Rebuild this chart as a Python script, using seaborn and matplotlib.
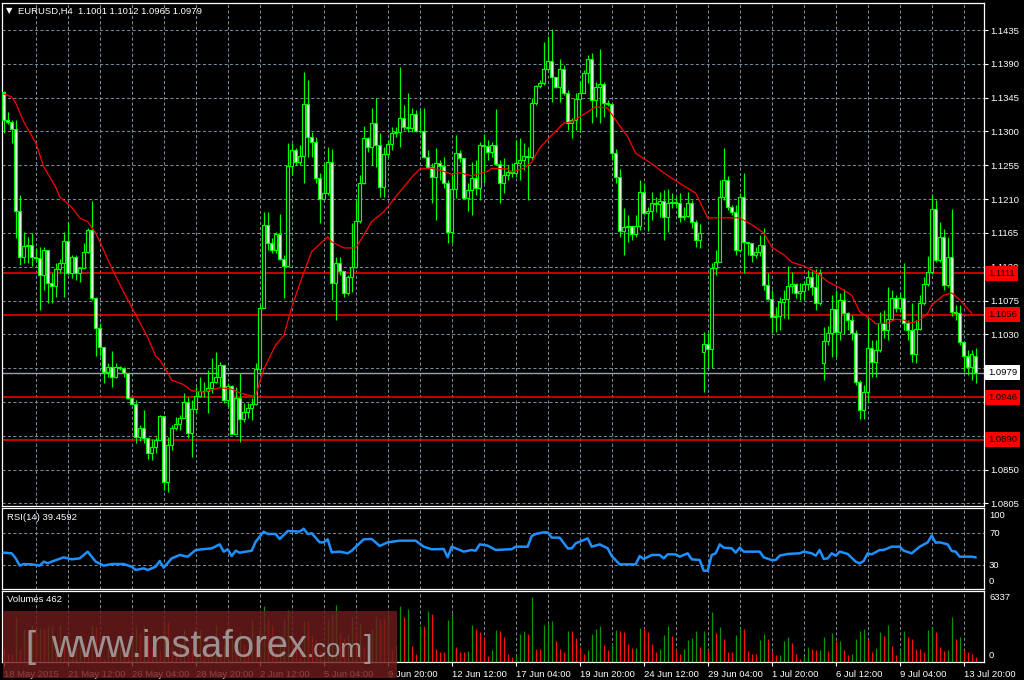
import numpy as np
import matplotlib
matplotlib.use("Agg")
import matplotlib.pyplot as plt
import matplotlib.transforms as mtransforms
from matplotlib.patches import Rectangle
import seaborn as sns

sns.set_theme(style="dark")
plt.rcParams['font.family'] = ['Liberation Sans', 'DejaVu Sans']

# ---------------- data ----------------
symbol_title = "EURUSD,H4  1.1001 1.1012 1.0965 1.0979"
first_open = 1.1353
gap_opens = {175: 1.1006, 205: 1.0992, 243: 1.1001}

closes = [
    1.1315, 1.1313, 1.1303, 1.1194, 1.1133, 1.1148, 1.1149, 1.1133, 1.1132, 1.1109,
    1.1142, 1.1098, 1.1094, 1.1117, 1.1125, 1.1154, 1.1112, 1.1133, 1.1112, 1.1118,
    1.1140, 1.1169, 1.1078, 1.1038, 1.1013, 1.0980, 1.0987, 1.0973, 1.0987, 1.0985,
    1.0979, 1.0945, 1.0937, 1.0893, 1.0905, 1.0892, 1.0872, 1.0880, 1.0889, 1.0921,
    1.0833, 1.0883, 1.0905, 1.0911, 1.0919, 1.0940, 1.0899, 1.0931, 1.0948, 1.0955,
    1.0954, 1.0959, 1.0967, 1.0973, 1.0989, 1.0943, 1.0961, 1.0897, 1.0945, 1.0917,
    1.0927, 1.0932, 1.0937, 1.0984, 1.1065, 1.1176, 1.1152, 1.1142, 1.1164, 1.1130,
    1.1121, 1.1254, 1.1275, 1.1259, 1.1267, 1.1337, 1.1293, 1.1286, 1.1238, 1.1210,
    1.1218, 1.1259, 1.1098, 1.1125, 1.1114, 1.1085, 1.1106, 1.1120, 1.1181, 1.1231,
    1.1291, 1.1279, 1.1311, 1.1282, 1.1226, 1.1270, 1.1283, 1.1298, 1.1299, 1.1318,
    1.1306, 1.1305, 1.1323, 1.1301, 1.1300, 1.1266, 1.1253, 1.1239, 1.1258, 1.1254,
    1.1231, 1.1166, 1.1223, 1.1271, 1.1265, 1.1211, 1.1222, 1.1238, 1.1225, 1.1282,
    1.1281, 1.1273, 1.1282, 1.1257, 1.1231, 1.1242, 1.1246, 1.1245, 1.1258, 1.1262,
    1.1267, 1.1266, 1.1338, 1.1361, 1.1365, 1.1383, 1.1394, 1.1373, 1.1359, 1.1383,
    1.1351, 1.1311, 1.1315, 1.1343, 1.1351, 1.1378, 1.1396, 1.1342, 1.1359, 1.1363,
    1.1338, 1.1337, 1.1271, 1.1239, 1.1168, 1.1173, 1.1174, 1.1164, 1.1174, 1.1219,
    1.1191, 1.1194, 1.1205, 1.1204, 1.1207, 1.1186, 1.1205, 1.1206, 1.1205, 1.1186,
    1.1187, 1.1205, 1.1180, 1.1156, 1.1165, 1.1017, 1.1010, 1.1118, 1.1126, 1.1213,
    1.1235, 1.1199, 1.1193, 1.1142, 1.1213, 1.1153, 1.1152, 1.1136, 1.1140, 1.1149,
    1.1096, 1.1077, 1.1053, 1.1054, 1.1073, 1.1077, 1.1094, 1.1097, 1.1085, 1.1088,
    1.1097, 1.1106, 1.1093, 1.1072, 1.1112, 1.1021, 1.1032, 1.1064, 1.1033, 1.1076,
    1.1058, 1.1049, 1.1032, 1.0967, 1.0929, 1.0953, 1.1012, 1.0993, 1.1009, 1.1045,
    1.1036, 1.1050, 1.1078, 1.1065, 1.1078, 1.1045, 1.1036, 1.1004, 1.1037, 1.1072,
    1.1097, 1.1113, 1.1197, 1.1129, 1.1160, 1.1096, 1.1133, 1.1060, 1.1058, 1.1020,
    1.1001, 1.0987, 1.1004, 1.0979,
]

highs = [
    1.1354, 1.1326, 1.1315, 1.1315, 1.1215, 1.1166, 1.1160, 1.1165, 1.1145, 1.1146,
    1.1146, 1.1142, 1.1112, 1.1125, 1.1130, 1.1166, 1.1180, 1.1136, 1.1136, 1.1120,
    1.1152, 1.1172, 1.1207, 1.1080, 1.1045, 1.1010, 1.0992, 1.1008, 1.0992, 1.0988,
    1.0987, 1.0979, 1.0945, 1.0943, 1.0909, 1.0929, 1.0892, 1.0891, 1.0893, 1.0923,
    1.0921, 1.0893, 1.0909, 1.0920, 1.0923, 1.0952, 1.0947, 1.0943, 1.0960, 1.0973,
    1.0967, 1.0983, 1.0999, 1.1006, 1.0993, 1.0983, 1.0965, 1.0963, 1.0960, 1.0979,
    1.0939, 1.0939, 1.0945, 1.0992, 1.1069, 1.1193, 1.1193, 1.1158, 1.1166, 1.1190,
    1.1136, 1.1285, 1.1285, 1.1278, 1.1282, 1.1379, 1.1369, 1.1299, 1.1293, 1.1245,
    1.1258, 1.1279, 1.1277, 1.1133, 1.1133, 1.1112, 1.1109, 1.1178, 1.1209, 1.1242,
    1.1307, 1.1293, 1.1331, 1.1345, 1.1298, 1.1279, 1.1289, 1.1306, 1.1306, 1.1386,
    1.1335, 1.1351, 1.1331, 1.1329, 1.1329, 1.1331, 1.1275, 1.1258, 1.1278, 1.1262,
    1.1266, 1.1235, 1.1245, 1.1295, 1.1275, 1.1265, 1.1231, 1.1259, 1.1262, 1.1286,
    1.1297, 1.1289, 1.1286, 1.1330, 1.1262, 1.1265, 1.1255, 1.1258, 1.1289, 1.1291,
    1.1285, 1.1279, 1.1345, 1.1362, 1.1369, 1.1419, 1.1427, 1.1436, 1.1373, 1.1396,
    1.1388, 1.1355, 1.1318, 1.1351, 1.1367, 1.1382, 1.1402, 1.1404, 1.1366, 1.1410,
    1.1366, 1.1342, 1.1338, 1.1277, 1.1250, 1.1198, 1.1189, 1.1173, 1.1189, 1.1235,
    1.1231, 1.1199, 1.1219, 1.1213, 1.1219, 1.1222, 1.1223, 1.1218, 1.1213, 1.1218,
    1.1199, 1.1219, 1.1209, 1.1182, 1.1177, 1.1033, 1.1032, 1.1125, 1.1142, 1.1235,
    1.1278, 1.1241, 1.1202, 1.1202, 1.1218, 1.1245, 1.1153, 1.1152, 1.1146, 1.1162,
    1.1172, 1.1112, 1.1089, 1.1066, 1.1080, 1.1089, 1.1121, 1.1113, 1.1098, 1.1098,
    1.1100, 1.1116, 1.1114, 1.1117, 1.1117, 1.1040, 1.1041, 1.1082, 1.1089, 1.1085,
    1.1090, 1.1060, 1.1056, 1.1036, 1.0969, 1.0963, 1.1053, 1.1022, 1.1022, 1.1060,
    1.1062, 1.1093, 1.1089, 1.1082, 1.1085, 1.1125, 1.1049, 1.1072, 1.1049, 1.1082,
    1.1106, 1.1134, 1.1217, 1.1209, 1.1180, 1.1170, 1.1160, 1.1197, 1.1069, 1.1069,
    1.1013, 1.1009, 1.1009, 1.1012,
]

lows = [
    1.1298, 1.1310, 1.1285, 1.1158, 1.1122, 1.1125, 1.1125, 1.1121, 1.1126, 1.1062,
    1.1089, 1.1072, 1.1072, 1.1080, 1.1112, 1.1080, 1.1109, 1.1105, 1.1102, 1.1100,
    1.1118, 1.1138, 1.1076, 1.1001, 1.1001, 1.0965, 1.0973, 1.0960, 1.0972, 1.0983,
    1.0973, 1.0944, 1.0936, 1.0885, 1.0888, 1.0885, 1.0864, 1.0863, 1.0872, 1.0889,
    1.0823, 1.0820, 1.0876, 1.0903, 1.0903, 1.0919, 1.0892, 1.0867, 1.0925, 1.0947,
    1.0947, 1.0925, 1.0952, 1.0965, 1.0960, 1.0939, 1.0933, 1.0897, 1.0897, 1.0887,
    1.0913, 1.0919, 1.0916, 1.0936, 1.0980, 1.1065, 1.1142, 1.1138, 1.1138, 1.1129,
    1.1078, 1.1120, 1.1242, 1.1255, 1.1255, 1.1231, 1.1266, 1.1266, 1.1231, 1.1178,
    1.1209, 1.1215, 1.1076, 1.1049, 1.1109, 1.1080, 1.1082, 1.1086, 1.1118, 1.1178,
    1.1230, 1.1273, 1.1255, 1.1253, 1.1213, 1.1213, 1.1266, 1.1275, 1.1293, 1.1279,
    1.1302, 1.1299, 1.1299, 1.1299, 1.1298, 1.1265, 1.1251, 1.1205, 1.1182, 1.1235,
    1.1225, 1.1152, 1.1152, 1.1211, 1.1259, 1.1210, 1.1194, 1.1189, 1.1215, 1.1209,
    1.1231, 1.1262, 1.1266, 1.1255, 1.1205, 1.1218, 1.1235, 1.1239, 1.1239, 1.1235,
    1.1249, 1.1209, 1.1262, 1.1335, 1.1358, 1.1362, 1.1382, 1.1339, 1.1358, 1.1339,
    1.1349, 1.1302, 1.1291, 1.1302, 1.1299, 1.1351, 1.1365, 1.1311, 1.1319, 1.1311,
    1.1319, 1.1334, 1.1262, 1.1231, 1.1160, 1.1136, 1.1153, 1.1156, 1.1160, 1.1169,
    1.1189, 1.1168, 1.1182, 1.1193, 1.1186, 1.1156, 1.1166, 1.1198, 1.1199, 1.1180,
    1.1182, 1.1186, 1.1172, 1.1146, 1.1145, 1.0953, 1.0985, 1.0985, 1.1109, 1.1126,
    1.1209, 1.1195, 1.1189, 1.1136, 1.1140, 1.1112, 1.1136, 1.1126, 1.1132, 1.1134,
    1.1089, 1.1076, 1.1032, 1.1033, 1.1036, 1.1052, 1.1050, 1.1085, 1.1078, 1.1076,
    1.1076, 1.1089, 1.1082, 1.1062, 1.1069, 1.0969, 1.1016, 1.1000, 1.1000, 1.1022,
    1.1030, 1.1036, 1.1022, 1.0963, 1.0917, 1.0917, 1.0940, 1.0973, 1.0973, 1.1006,
    1.1025, 1.1022, 1.1049, 1.1060, 1.1060, 1.1036, 1.1022, 1.0993, 1.0992, 1.1036,
    1.1069, 1.1094, 1.1110, 1.1126, 1.1126, 1.1089, 1.1093, 1.1054, 1.1049, 1.1016,
    1.0980, 1.0976, 1.0969, 1.0965,
]

volumes = [
    1235, 813, 748, 4388, 1203, 3250, 2925, 3575, 3250, 3315,
    3250, 3413, 3510, 975, 3575, 2113, 2828, 975, 1463, 2113,
    1723, 975, 3478, 3413, 1463, 325, 1463, 878, 1788, 2438,
    1398, 975, 2113, 3413, 2763, 3478, 2763, 1463, 2113, 1138,
    3998, 3900, 1463, 943, 1463, 3250, 1463, 1138, 1950, 3088,
    1528, 488, 813, 3575, 650, 1625, 1463, 2113, 1300, 2925,
    1788, 1300, 4063, 2113, 3088, 5428, 4160, 3575, 975, 2113,
    4128, 5038, 2275, 1625, 1463, 3965, 3900, 2665, 2113, 1138,
    1463, 4063, 4648, 5525, 2698, 2340, 2763, 4388, 2990, 3738,
    1463, 1040, 3250, 4453, 4160, 4160, 4648, 1138, 1625, 5428,
    4388, 5135, 1560, 748, 3478, 3478, 4940, 4648, 1300, 943,
    943, 4063, 4713, 1463, 975, 975, 1040, 3575, 3185, 2893,
    2438, 585, 1138, 3088, 2990, 2438, 748, 500, 650, 2763,
    2990, 2698, 6337, 1235, 1235, 3575, 3803, 3965, 2015, 1235,
    943, 2990, 2990, 2340, 1463, 813, 1138, 2763, 3185, 3478,
    1625, 1138, 1788, 3088, 2990, 2893, 1723, 1365, 1400, 3315,
    3315, 2893, 1723, 943, 1235, 2600, 3478, 2503, 1235, 813,
    1235, 2178, 2340, 2990, 1463, 3023, 1138, 4875, 2828, 3413,
    2210, 943, 943, 2600, 3315, 3250, 1040, 748, 748, 2113,
    2698, 2210, 1073, 650, 715, 2015, 2438, 1885, 748, 325,
    553, 1463, 1300, 1138, 1170, 2438, 1040, 2828, 2015, 2050,
    1138, 715, 813, 2210, 2990, 3185, 2178, 943, 1365, 2893,
    2503, 3575, 1560, 715, 1138, 2990, 2438, 2210, 1300, 1235,
    943, 3088, 3348, 2893, 1463, 1040, 1138, 4355, 2210, 2438,
    1138, 943, 748, 462,
]

ma_bars = [0, 2, 3, 5, 8, 10, 13, 14, 17, 19, 21, 23, 25, 27, 30, 33, 36, 38, 39, 41,
           42, 45, 47, 50, 52, 54, 57, 59, 62, 63, 65, 68, 70, 72, 75, 77, 81, 82, 85, 88,
           90, 92, 95, 98, 102, 104, 107, 110, 112, 114, 117, 121, 122, 126, 127, 130, 132,
           134, 137, 140, 142, 146, 148, 151, 153, 156, 158, 162, 165, 169, 173, 176, 179,
           184, 187, 190, 192, 195, 197, 200, 203, 206, 209, 212, 214, 217, 218, 221, 223,
           225, 227, 229, 231, 232, 235, 237, 239, 242]
ma_vals = [1.1350, 1.1346, 1.1338, 1.1313, 1.1285, 1.1253, 1.1226, 1.1213, 1.1199, 1.1185,
           1.1180, 1.1165, 1.1142, 1.1118, 1.1086, 1.1056, 1.1026, 1.1001, 1.0996, 1.0979,
           1.0969, 1.0963, 1.0955, 1.0953, 1.0956, 1.0959, 1.0957, 1.0952, 1.0948, 1.0949,
           1.0983, 1.1016, 1.1028, 1.1066, 1.1112, 1.1140, 1.1160, 1.1153, 1.1145, 1.1145,
           1.1162, 1.1180, 1.1193, 1.1213, 1.1239, 1.1250, 1.1251, 1.1247, 1.1243, 1.1245,
           1.1241, 1.1247, 1.1251, 1.1250, 1.1246, 1.1251, 1.1259, 1.1278, 1.1295, 1.1311,
           1.1313, 1.1326, 1.1333, 1.1331, 1.1315, 1.1293, 1.1271, 1.1257, 1.1245, 1.1231,
           1.1218, 1.1185, 1.1185, 1.1185, 1.1176, 1.1165, 1.1146, 1.1136, 1.1126, 1.1121,
           1.1113, 1.1100, 1.1092, 1.1082, 1.1060, 1.1049, 1.1044, 1.1045, 1.1050, 1.1049,
           1.1045, 1.1049, 1.1058, 1.1069, 1.1082, 1.1085, 1.1076, 1.1058]

rsi_bars = [0, 2, 3, 4, 5, 7, 9, 10, 11, 12, 15, 17, 19, 21, 23, 25, 27, 30, 32, 33,
            35, 36, 38, 39, 40, 42, 44, 46, 48, 52, 54, 55, 56, 57, 58, 59, 62, 63, 65, 66,
            68, 69, 71, 74, 75, 76, 77, 79, 80, 81, 82, 84, 86, 87, 90, 92, 94, 96, 99, 103,
            105, 107, 110, 111, 112, 115, 117, 118, 119, 121, 123, 127, 128, 131, 132, 133,
            135, 136, 137, 139, 141, 142, 143, 146, 147, 149, 151, 152, 154, 158, 159, 160,
            162, 164, 165, 166, 168, 169, 171, 172, 174, 175, 176, 177, 178, 179, 180, 182,
            183, 184, 185, 189, 190, 192, 193, 194, 196, 199, 200, 202, 203, 204, 205, 206,
            207, 208, 209, 211, 213, 214, 215, 216, 217, 219, 220, 222, 224, 225, 227, 229,
            231, 232, 233, 234, 236, 237, 238, 239, 242, 243]
rsi_vals = [45.4, 44.6, 38.3, 29.2, 31.2, 30.8, 29.2, 34.2, 32.1, 34.2, 39.6, 37.1, 38.3,
            46.7, 34.2, 29.2, 31.2, 31.2, 27.9, 23.8, 25.8, 23.8, 27.9, 35.0, 26.7, 38.3,
            42.5, 40.4, 48.8, 50.8, 55.8, 46.7, 49.6, 41.2, 47.9, 45.4, 47.9, 59.2, 71.7,
            68.8, 68.8, 62.5, 72.5, 71.7, 75.4, 68.8, 69.6, 58.3, 58.3, 62.1, 45.8, 46.7,
            44.6, 47.9, 62.1, 62.5, 53.8, 58.3, 60.4, 60.4, 52.9, 49.6, 50.0, 39.6, 52.9,
            46.7, 48.8, 47.9, 55.8, 54.2, 48.8, 49.8, 52.9, 52.9, 66.2, 68.8, 70.8, 70.8,
            64.2, 64.2, 50.8, 50.8, 57.1, 63.3, 52.9, 55.8, 50.8, 41.2, 30.8, 30.8, 41.2,
            37.5, 42.5, 42.5, 38.3, 43.3, 43.3, 40.4, 44.6, 37.1, 36.2, 22.9, 22.9, 42.5,
            44.6, 55.8, 51.7, 50.8, 45.4, 51.7, 46.7, 46.7, 39.6, 36.2, 36.2, 41.7, 43.8,
            44.6, 46.7, 44.6, 41.7, 48.8, 37.5, 38.3, 44.6, 41.7, 46.7, 43.8, 34.2, 32.1,
            35.0, 44.6, 43.3, 48.8, 48.8, 52.9, 52.9, 47.9, 44.6, 52.9, 58.3, 66.7, 57.9,
            58.3, 55.8, 47.5, 46.7, 40.4, 40.4, 39.5]

red_levels = [1.1111, 1.1056, 1.0946, 1.0890]
bid_price = 1.0979
price_ticks = [1.1435, 1.1390, 1.1345, 1.1300, 1.1255, 1.1210, 1.1165, 1.1120,
               1.1075, 1.1030, 1.0985, 1.0940, 1.0895, 1.0850, 1.0805]
time_labels = ["18 May 2015", "21 May 12:00", "26 May 04:00", "28 May 20:00",
               "2 Jun 12:00", "5 Jun 04:00", "9 Jun 20:00", "12 Jun 12:00",
               "17 Jun 04:00", "19 Jun 20:00", "24 Jun 12:00", "29 Jun 04:00",
               "1 Jul 20:00", "6 Jul 12:00", "9 Jul 04:00", "13 Jul 20:00"]
time_label_bars = list(range(0, 241, 16))
rsi_title = "RSI(14) 39.4592"
vol_title = "Volumes 462"
vol_max_label = 6337

# ---------------- figure ----------------
W, H = 1024, 680
fig = plt.figure(figsize=(W / 100, H / 100), dpi=100, facecolor='black')


def rect(x0, y0, x1, y1):
    return [x0 / W, 1 - y1 / H, (x1 - x0) / W, (y1 - y0) / H]


ax = fig.add_axes(rect(2, 3, 984, 506))
ax_rsi = fig.add_axes(rect(2, 508, 984, 589))
ax_vol = fig.add_axes(rect(2, 591, 984, 662))

XMIN, XMAX = -0.425, 245.075
GRID = '#778899'
DASH = (0, (3.0, 2.2))
LIME = '#00ff00'
FS = 6.8

for a in (ax, ax_rsi, ax_vol):
    a.set_facecolor('black')
    a.set_xlim(XMIN, XMAX)
    a.grid(False)
    for s in a.spines.values():
        s.set_color('white')
        s.set_linewidth(0.9)
    a.set_xticks([])
    a.tick_params(axis='y', left=False, right=False, labelleft=False, labelright=False)

vgrid = list(range(8, 245, 8))

# ---- main panel ----
ax.set_ylim(1.08015, 1.1471)
ax.hlines(price_ticks, XMIN, XMAX, colors=GRID, linestyles=DASH, lw=0.75, zorder=0)
ax.vlines(vgrid, 1.08015, 1.1471, colors=GRID, linestyles=DASH, lw=0.75, zorder=0)

idx = np.arange(len(closes))
c = np.array(closes)
o = np.array([first_open] + closes[:-1])
for k, v in gap_opens.items():
    o[k] = v
h = np.maximum(np.array(highs), np.maximum(o, c))
l = np.minimum(np.array(lows), np.minimum(o, c))
up = c >= o
bottom = np.minimum(o, c)
height = np.maximum(np.abs(c - o), 0.00004)

ax.vlines(idx, l, h, color=LIME, lw=0.85, zorder=3)
ax.bar(idx[up], height[up], bottom=bottom[up], width=0.62, color='black',
       edgecolor=LIME, linewidth=0.85, zorder=4)
ax.bar(idx[~up], height[~up], bottom=bottom[~up], width=0.62, color='white',
       edgecolor=LIME, linewidth=0.85, zorder=4)

sns.lineplot(x=ma_bars, y=ma_vals, ax=ax, color='#ff0000', lw=0.9, zorder=5)

for lev in red_levels:
    ax.axhline(lev, color='#ff0000', lw=1.1, zorder=2)
ax.axhline(bid_price, color='#a0a0a8', lw=1.0, zorder=2)

ax.yaxis.tick_right()
ax.set_yticks(price_ticks)
ax.set_yticklabels([f"{p:.4f}" for p in price_ticks])
ax.tick_params(axis='y', right=True, labelright=True, colors='white', labelcolor='white',
               labelsize=FS, length=3, width=0.8, pad=1.5)
ax.set_xlabel('')
ax.set_ylabel('')

tr_main = mtransforms.blended_transform_factory(fig.transFigure, ax.transData)
for lev in red_levels:
    ax.text(988 / W, lev, f"{lev:.4f}", transform=tr_main, color='black', fontsize=FS,
            va='center', ha='left', zorder=20, clip_on=False,
            bbox=dict(boxstyle='square,pad=0.32', fc='#ff0000', ec='none'))
ax.text(988 / W, bid_price, f"{bid_price:.4f}", transform=tr_main, color='black', fontsize=FS,
        va='center', ha='left', zorder=20, clip_on=False,
        bbox=dict(boxstyle='square,pad=0.32', fc='white', ec='none'))

fig.text(6 / W, 1 - 11 / H, '\u25bc', color='white', fontsize=6, va='center', ha='left',
         family=['DejaVu Sans'])
fig.text(18 / W, 1 - 11 / H, symbol_title, color='white', fontsize=FS, va='center', ha='left')

# ---- RSI panel ----
ax_rsi.set_ylim(0, 101.25)
ax_rsi.hlines([70, 30], XMIN, XMAX, colors=GRID, linestyles=DASH, lw=0.75, zorder=0)
ax_rsi.vlines(vgrid, 0, 101.25, colors=GRID, linestyles=DASH, lw=0.75, zorder=0)
sns.lineplot(x=rsi_bars, y=rsi_vals, ax=ax_rsi, color='#1e90ff', lw=1.8, zorder=3)
ax_rsi.set_xlabel('')
ax_rsi.set_ylabel('')
fig.text(7 / W, 1 - 517 / H, rsi_title, color='white', fontsize=FS, va='center', ha='left')
for lab, ypx in [("100", 515), ("70", 533), ("30", 565), ("0", 582)]:
    fig.text(989 / W, 1 - ypx / H, lab, color='white', fontsize=FS, va='center', ha='left')

# ---- Volume panel ----
vol = np.array(volumes)
vol_colors = ['#0c930c' if (i > 0 and vol[i] > vol[i - 1]) else '#ff1010' for i in range(len(vol))]
ax_vol.set_ylim(0, 6890)
ax_vol.vlines(vgrid, 0, 6890, colors=GRID, linestyles=DASH, lw=0.75, zorder=0)
ax_vol.vlines(idx, 0, vol, colors=vol_colors, lw=0.9, zorder=2)
fig.text(7 / W, 1 - 600 / H, vol_title, color='white', fontsize=FS, va='center', ha='left')
fig.text(989 / W, 1 - 598 / H, str(vol_max_label), color='white', fontsize=FS, va='center', ha='left')
fig.text(989 / W, 1 - 655 / H, "0", color='white', fontsize=FS, va='center', ha='left')

ax_vol.set_xticks(time_label_bars)
ax_vol.set_xticklabels(time_labels, ha='left')
ax_vol.tick_params(axis='x', bottom=True, labelbottom=True, colors='white', labelcolor='white',
                   labelsize=FS, length=3, width=0.8, pad=2.5, direction='out')
for t in ax_vol.get_xticklabels():
    t.set_zorder(30)

# ---- watermark ----
fig.add_artist(Rectangle((3 / W, 1 - 678 / H), 394 / W, 67 / H, transform=fig.transFigure,
                         facecolor='#6e1c1c', edgecolor='none', alpha=0.82, zorder=5))
wm_col = '#a8a8a8'
fig.text(25 / W, 1 - 657 / H, '[', color=wm_col, fontsize=26, va='baseline', ha='left', zorder=6,
         alpha=0.85)
fig.text(51 / W, 1 - 657 / H, 'www.instaforex', color=wm_col, fontsize=27.4, va='baseline',
         ha='left', zorder=6, alpha=0.85)
fig.text(307 / W, 1 - 657 / H, '.com', color=wm_col, fontsize=18.5, va='baseline', ha='left',
         zorder=6, alpha=0.85)
fig.text(364 / W, 1 - 657 / H, ']', color=wm_col, fontsize=22, va='baseline', ha='left', zorder=6,
         alpha=0.85)

fig.savefig('out.png', dpi=100, facecolor='black')
